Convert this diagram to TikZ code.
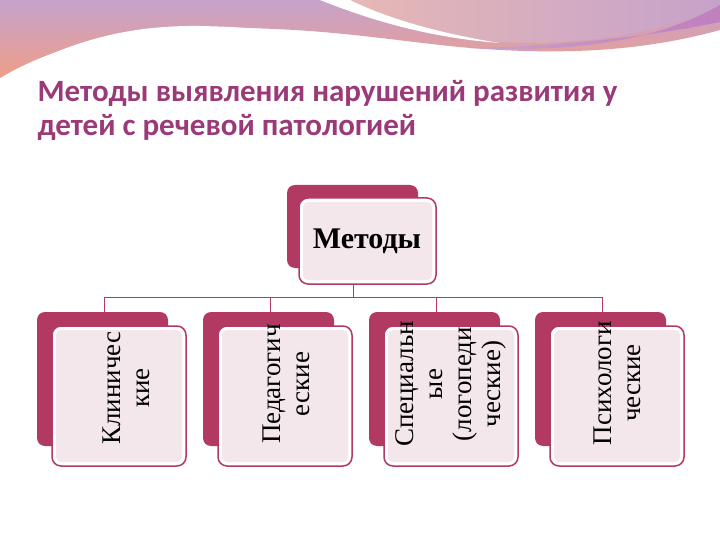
\documentclass[tikz,border=0pt]{standalone}
\usepackage{fontspec}
\setmainfont{Liberation Serif}
\newfontfamily\titlefont{Carlito}
\begin{document}
\begin{tikzpicture}[x=1pt,y=-1pt,
  backbox/.style={fill=crim,rounded corners=8pt},
  frontbox/.style={fill=white,draw=crim,line width=1.5pt,rounded corners=9pt},
  innerfill/.style={fill=pinkin,rounded corners=5pt},
  lbl/.style={font=\fontsize{27}{29}\selectfont,align=center,rotate=90},
  conn/.style={draw=crim,line width=1pt}]
\definecolor{crim}{HTML}{B23A62}
\definecolor{pinkin}{HTML}{F4E7EC}
\definecolor{titlec}{HTML}{9A3A78}
\definecolor{lav}{HTML}{C6A2CB}
\definecolor{orng}{HTML}{EE9E88}
\definecolor{peach}{HTML}{E8B9B4}
\useasboundingbox (0,0) rectangle (720,540);
\fill[white] (0,0) rectangle (720,540);
% banner
\shade[top color=lav,bottom color=orng] (0,0) -- (720,0) -- (720,30) .. controls (640,52) and (560,55) .. (470,48) .. controls (380,40) and (300,22) .. (160,30) .. controls (80,38) and (30,60) .. (0,78) -- cycle;
\fill[white] (0,80) .. controls (60,45) and (120,25) .. (200,26) .. controls (300,28) and (400,45) .. (470,52) -- (470,60) -- (0,90) -- cycle;
\shade[left color=peach,right color=lav] (330,0) -- (720,0) -- (720,5) .. controls (650,40) and (560,45) .. (500,42) .. controls (420,35) and (360,15) .. (330,0) -- cycle;
\fill[white] (320,0) .. controls (370,20) and (430,38) .. (500,43) .. controls (430,32) and (380,15) .. (350,0) -- cycle;
\shade[left color=lav,right color=violet!50!white] (720,5) .. controls (650,45) and (560,52) .. (470,48) .. controls (600,45) and (680,30) .. (720,22) -- cycle;
% title
\node[anchor=west,text=titlec,font=\titlefont\bfseries\fontsize{31}{34}\selectfont,align=left] (title) at (34,110) {Методы выявления нарушений развития у\\детей с речевой патологией};
% top
\fill[backbox] (287,185) rectangle (418,268);
\draw[frontbox] (299,198) rectangle (436,284);
\fill[innerfill] (303,202) rectangle (432,280);
\node[font=\bfseries\fontsize{30}{32}\selectfont] (top) at (367,241) {Методы};
\coordinate (topb) at (353,284);
\coordinate (bar) at (353,297);
% bottom boxes
\foreach \i/\x in {1/37,2/203,3/369,4/535}{
  \fill[backbox] (\x,312) rectangle ({\x+131},446);
  \draw[frontbox] ({\x+15},326) rectangle ({\x+149},466);
  \fill[innerfill] ({\x+19},330) rectangle ({\x+145},462);
  \coordinate (c\i) at ({\x+67},312);
}
\node[lbl] (b1) at (126,388) {Клиничес\\кие};
\node[lbl] (b2) at (286,384) {Педагогич\\еские};
\node[lbl] (b3) at (451,384) {Специальн\\ые\\(логопеди\\ческие)};
\node[lbl] (b4) at (617,383) {Психологи\\ческие};
\draw[conn] (topb) -- (bar);
\draw[conn] (c1) -- (c1 |- bar) -- (c4 |- bar) -- (c4);
\draw[conn] (c2 |- bar) -- (c2);
\draw[conn] (c3 |- bar) -- (c3);
\end{tikzpicture}
\end{document}
